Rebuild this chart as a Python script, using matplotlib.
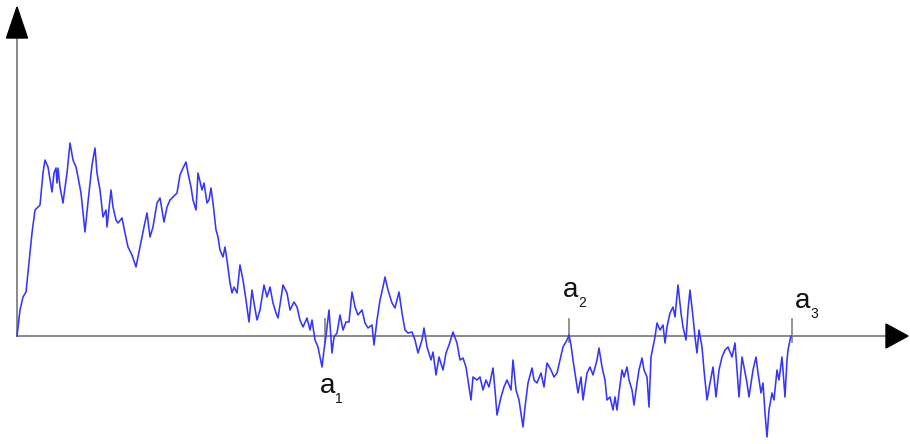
import matplotlib
matplotlib.use('Agg')
import matplotlib.pyplot as plt
from matplotlib.patches import Polygon

# path (t, value)
t = [0, 3, 6, 9, 15, 18, 23, 26, 28, 31, 35, 37, 39, 40, 41, 43, 46, 47, 50, 53,
     56, 59, 61, 64, 66, 68, 71, 75, 78, 80, 83, 86, 89, 90, 94, 96, 99, 101, 105, 108,
     111, 115, 119, 121, 125, 127, 130, 133,
     136, 140, 143, 147, 150, 153, 156, 160, 163, 166, 169, 171, 174, 176, 179, 181, 185, 187, 190, 192,
     194, 196, 199, 201, 203, 206, 208, 210, 213, 215, 217, 220, 223, 226, 229, 232, 235, 237, 240, 243,
     247, 250, 253, 256, 259, 261, 266, 270, 273, 277, 280, 283,
     286, 290, 293, 295, 298, 301, 305, 307, 309, 312, 315, 317, 320, 323, 326, 329, 332, 335, 338, 341,
     345, 348, 351, 355, 357, 360, 363, 366, 368, 371, 375, 378, 382, 385, 388, 391, 395, 398, 401, 405,
     407, 410, 414, 416, 419, 422, 426, 429, 432, 436,
     440, 443, 446, 449, 451, 454, 456, 460, 463, 466, 469, 472, 476, 478, 480, 484, 487, 490, 494, 496,
     499, 502, 506, 508, 511, 515, 517, 520, 524, 527, 530, 534, 537, 540, 543, 546, 550, 552, 554, 556,
     559, 561, 564, 566, 570, 573, 576, 580, 582, 585,
     588, 590, 593, 596, 598, 600, 602, 605, 607, 610, 612, 615, 617, 620, 622, 625, 627, 630, 632, 634,
     636, 638, 640, 643, 646, 648, 650, 653, 656, 658, 661, 664, 666, 669, 671, 673, 676, 678, 680, 682,
     685, 687, 690, 693, 696, 699, 702, 705, 708, 711, 715, 718, 720, 722, 725, 727, 730, 732, 736,
     739, 741, 744, 746, 748, 750, 752, 755, 757, 760, 762, 765, 766, 768, 770, 771, 773, 774]
w = [0, 26, 39, 44, 103, 126, 131, 163, 176, 169, 144, 163, 168, 153, 168, 149, 133, 141, 163, 193,
     176, 169, 159, 143, 123, 104, 134, 171, 188, 163, 146, 119, 126, 109, 146, 129, 116, 113, 118, 103,
     89, 81, 69, 79, 99, 109, 123, 99,
     109, 133, 138, 114, 129, 136, 139, 143, 161, 168, 174, 163, 149, 136, 126, 163, 146, 153, 133, 136,
     148, 133, 106, 99, 86, 79, 89, 76, 53, 43, 49, 43, 71, 56, 36, 14, 46, 33, 16, 26,
     51, 39, 49, 33, 23, 18, 51, 43, 26, 34, 29, 16,
     9, 18, 6, 16, -4, -11, -31, -14, 0, 26, -17, -1, 3, 21, 6, 14, 14, 44, 29, 21,
     26, 13, 8, 11, -9, 16, 36, 49, 59, 46, 33, 28, 44, 23, 6, 3, 4, -4, -17, -4,
     8, -11, -24, -16, -39, -21, -34, -17, -9, 4,
     -7, -24, -22, -31, -44, -64, -41, -44, -41, -54, -44, -51, -32, -54, -79, -61, -51, -44, -54, -24,
     -54, -64, -91, -71, -47, -32, -44, -47, -37, -51, -27, -34, -41, -37, -24, -11, -4, 1, -9, -24,
     -44, -57, -41, -64, -37, -31, -39, -24, -12, -31,
     -44, -64, -61, -74, -61, -74, -57, -34, -41, -31, -44, -54, -69, -47, -34, -22, -34, -41, -71, -21,
     -11, -1, 13, 6, 11, -7, 9, 23, 29, 19, 51, 23, 9, -4, 26, 46, 19, -1, -17, 6,
     -11, -34, -64, -47, -31, -61, -34, -21, -14, -11, -21, -7, -34, -61, -21, -31, -47, -61, -34,
     -21, -37, -57, -47, -77, -101, -74, -57, -64, -34, -44, -21, -34, -61, -24, -14, -4, 0]

# marked zeros and their labels
hits = [308, 552, 775]
labels = ['1', '2', '3']
label_t = [303, 546, 778]
label_y = [-57, 39, 28]

plt.rcParams['font.family'] = ['Liberation Sans', 'DejaVu Sans']

fig = plt.figure(figsize=(9.1, 4.44), dpi=100)
ax = fig.add_axes([0, 0, 1, 1])
ax.set_xlim(-17, 893)
ax.set_ylim(-108, 336)
ax.axis('off')

gray = '#808080'
# axes with arrow heads
ax.plot([0, 870], [0, 0], color=gray, lw=1.3, zorder=1)
ax.plot([0, 0], [0, 300], color=gray, lw=1.3, zorder=1)
ax.add_patch(Polygon([[869, -12], [869, 12], [891, 0]], closed=True, color='black', zorder=3))
ax.add_patch(Polygon([[-10.5, 298], [10.5, 298], [0, 329]], closed=True, color='black', zorder=3))

ax.plot(t, w, color='#3535ff', lw=1.15, zorder=2)

for h in hits:
    ax.plot([h, h], [-6, 17], color=gray, lw=1.2, zorder=1)

for s, x, y in zip(labels, label_t, label_y):
    ax.text(x, y, 'a', fontsize=20, ha='left', va='baseline', color='#111111')
    ax.text(x + 15.5, y - 10, s, fontsize=10, ha='left', va='baseline', color='#111111')

fig.savefig('out.png', dpi=100)
